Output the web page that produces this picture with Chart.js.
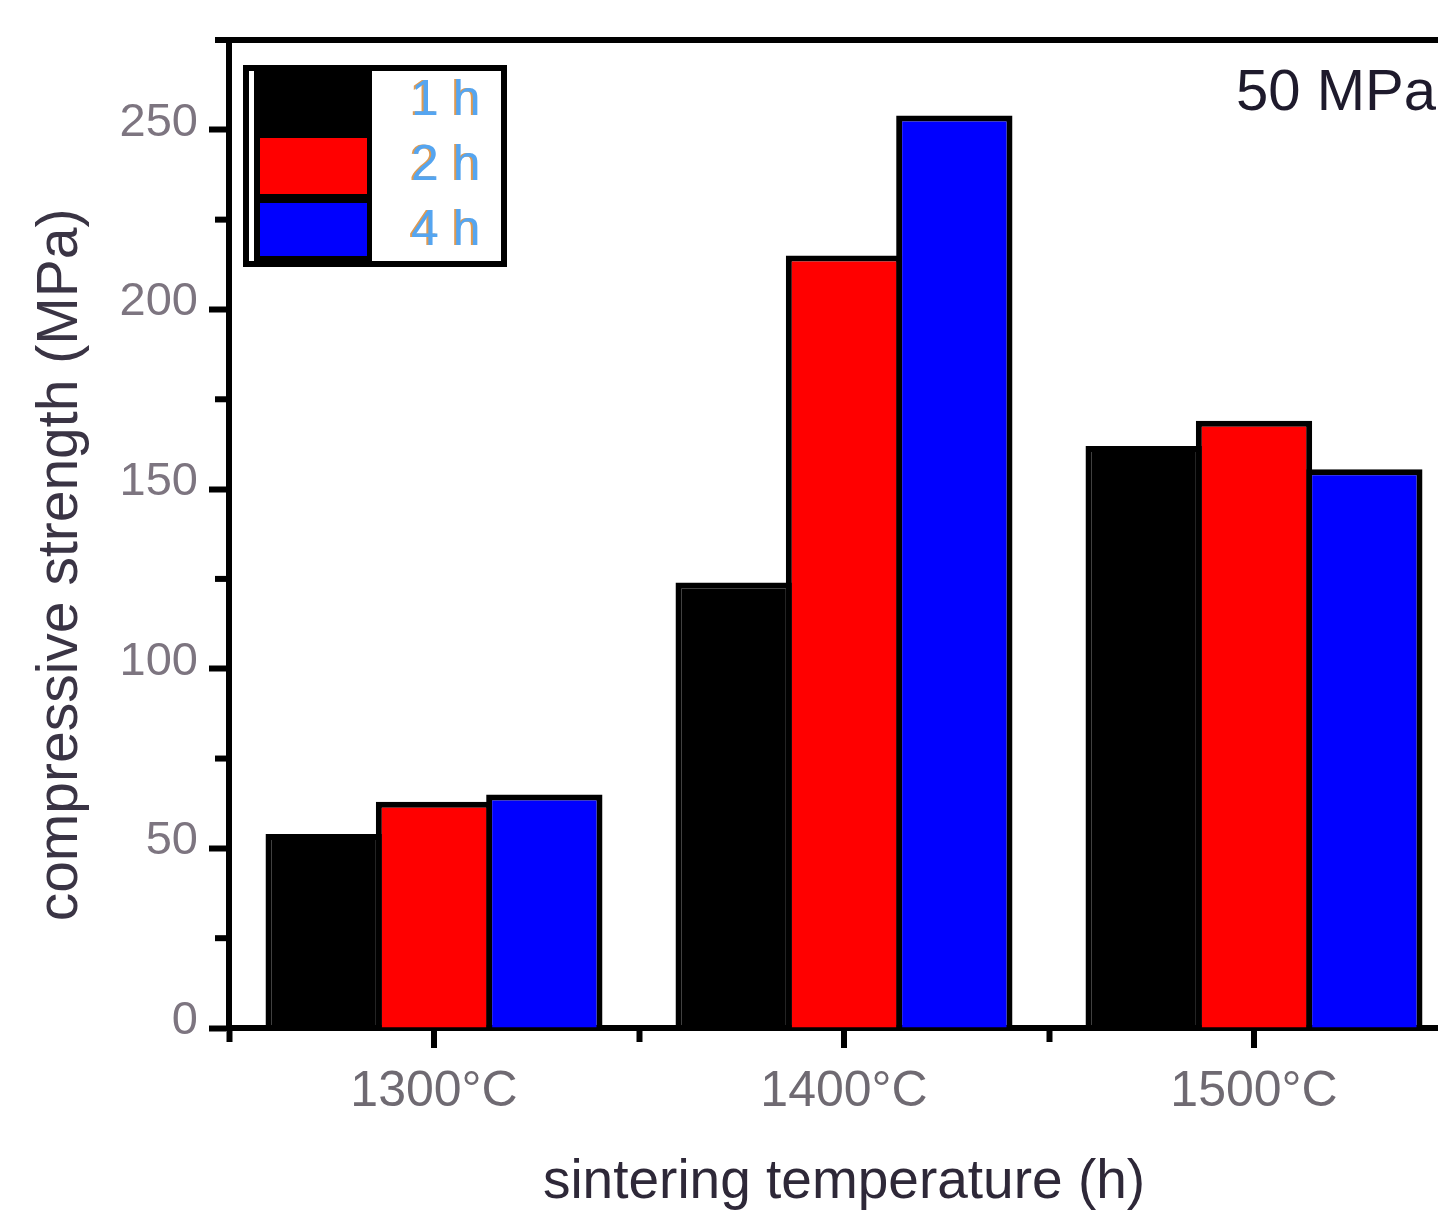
<!DOCTYPE html>
<html>
<head>
<meta charset="utf-8">
<script src="https://cdn.jsdelivr.net/npm/chart.js@4.4.1/dist/chart.umd.min.js"></script>
<style>
  html, body { margin: 0; padding: 0; background: #fff; overflow: hidden; }
  canvas { display: block; }
</style>
</head>
<body>
<canvas id="strengthChart" width="1480" height="1210"></canvas>
<script>
// ===============================
// data
// ===============================
const categories = ["1300°C", "1400°C", "1500°C"];
const seriesLabels = ["1 h", "2 h", "4 h"];
const oneHour = [54, 124, 162];
const twoHours = [63, 215, 169];
const fourHours = [65, 254, 155.5];
const yMajorStep = 50;
const yMinorTicks = [25, 75, 125, 175, 225];
const pressureNote = "50 MPa";
const yTitle = "compressive strength (MPa)";

const FONT = "'Liberation Sans', Arial, sans-serif";

// ===============================
// extras: frame, minor ticks, legend box, note
// ===============================
const extras = {
    id: "extras",
    afterDraw(chart) {
        const ctx = chart.ctx;
        const area = chart.chartArea;
        const xs = chart.scales.x;
        const ys = chart.scales.y;
        ctx.save();
        ctx.strokeStyle = "#000";
        ctx.lineWidth = 6;

        // top frame line
        ctx.beginPath();
        ctx.moveTo(215, area.top);
        ctx.lineTo(chart.width, area.top);
        ctx.stroke();

        // minor y ticks
        yMinorTicks.forEach(v => {
            const py = ys.getPixelForValue(v);
            ctx.beginPath();
            ctx.moveTo(area.left - 14, py);
            ctx.lineTo(area.left, py);
            ctx.stroke();
        });

        // long ticks under each category
        categories.forEach((c, i) => {
            const px = xs.getPixelForValue(i);
            ctx.beginPath();
            ctx.moveTo(px, area.bottom);
            ctx.lineTo(px, area.bottom + 20);
            ctx.stroke();
        });

        // legend box
        ctx.fillStyle = "#fff";
        ctx.fillRect(243, 65, 264, 202);
        ctx.strokeRect(246, 68, 258, 196);
        ctx.fillStyle = "#000";
        ctx.fillRect(254, 71, 118, 191);
        chart.data.datasets.forEach((ds, i) => {
            const top = 73 + 65 * i;
            const h = Math.min(56, 256 - top);
            ctx.fillStyle = ds.backgroundColor;
            ctx.fillRect(260, top, 107, h);

            ctx.font = "50px " + FONT;
            ctx.textBaseline = "alphabetic";
            ctx.textAlign = "left";
            ctx.fillStyle = "#e09a50";
            ctx.fillText(ds.label, 409, 115 + 65 * i);
            ctx.fillStyle = "#55a5f0";
            ctx.fillText(ds.label, 411, 115 + 65 * i);
        });

        // pressure note
        ctx.font = "58px " + FONT;
        ctx.fillStyle = "#1e1a2c";
        ctx.textBaseline = "alphabetic";
        ctx.fillText(pressureNote, 1236, 110);

        // y axis title
        ctx.translate(61, 565);
        ctx.rotate(-Math.PI / 2);
        ctx.font = "57px " + FONT;
        ctx.fillStyle = "#3a3444";
        ctx.textAlign = "center";
        ctx.textBaseline = "middle";
        ctx.fillText(yTitle, 0, 0);

        ctx.restore();
    }
};

// ===============================
// chart
// ===============================
new Chart(document.getElementById("strengthChart"), {
    type: "bar",
    data: {
        labels: categories,
        datasets: [
            { label: seriesLabels[0], data: oneHour, backgroundColor: "#000000" },
            { label: seriesLabels[1], data: twoHours, backgroundColor: "#ff0000" },
            { label: seriesLabels[2], data: fourHours, backgroundColor: "#0000ff" }
        ].map(ds => Object.assign(ds, {
            borderColor: "#000",
            borderWidth: 6,
            borderSkipped: "start",
            categoryPercentage: 0.8073,
            barPercentage: 1.0544
        }))
    },
    options: {
        responsive: false,
        animation: false,
        devicePixelRatio: 1,
        layout: { padding: { left: 0, top: 40, right: 21, bottom: 0 } },
        plugins: {
            legend: { display: false },
            tooltip: { enabled: false }
        },
        scales: {
            x: {
                afterFit(s) { s.height = 182; },
                border: { display: true, color: "#000", width: 6 },
                grid: {
                    offset: true,
                    drawOnChartArea: false,
                    tickLength: 14,
                    tickWidth: 6,
                    tickColor: "#000"
                },
                ticks: {
                    padding: 20,
                    color: "#6f6a72",
                    maxRotation: 0,
                    autoSkip: false,
                    font: { family: FONT, size: 50 }
                },
                title: {
                    display: true,
                    text: "sintering temperature (h)",
                    color: "#2e2838",
                    font: { family: FONT, size: 55, lineHeight: 1 },
                    padding: 0
                }
            },
            y: {
                min: 0,
                max: 275,
                afterFit(s) { s.width = 229; },
                border: { display: true, color: "#000", width: 6 },
                grid: {
                    drawOnChartArea: false,
                    tickLength: 20,
                    tickWidth: 6,
                    tickColor: "#000"
                },
                ticks: {
                    stepSize: yMajorStep,
                    includeBounds: false,
                    padding: 11,
                    labelOffset: -7,
                    color: "#7d7580",
                    font: { family: FONT, size: 47 }
                },
                title: { display: false }
            }
        }
    },
    plugins: [extras]
});
</script>
</body>
</html>
